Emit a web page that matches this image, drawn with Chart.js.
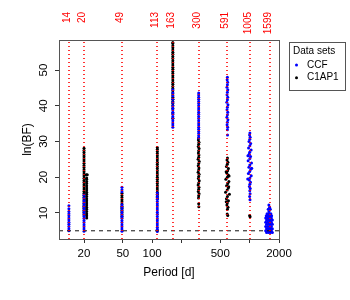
<!DOCTYPE html>
<html><head><meta charset="utf-8">
<script src="https://cdn.jsdelivr.net/npm/chart.js@4/dist/chart.umd.min.js"></script>
<style>html,body{margin:0;padding:0;background:#fff}canvas{display:block}</style>
</head><body>
<canvas id="c" width="350" height="300"></canvas>
<script>
// ---- marker periods (red dotted lines) and labels ----
const markerPeriods = [14, 20, 49, 113, 163, 300, 591, 1005, 1599];
const markerLabels = ['14', '20', '49', '113', '163', '300', '591', '1005', '1599'];
// ---- axis ticks ----
const xTickValues = [20, 50, 100, 200, 500, 1000, 2000];
const xTickLabels = ['20', '50', '100', '', '500', '', '2000'];
const yTickValues = [10, 20, 30, 40, 50];
const thresholdLnBF = 5;
const seriesNames = ['CCF', 'C1AP1'];

// ---- CCF (blue): narrow streaks, ln(BF) values at one period ----
const ccfP14 = [5.0, 5.6, 6.2, 6.8, 7.4, 8.0, 8.6, 9.2, 9.8, 10.4, 11.2, 12.0];
const ccfP20 = [4.9, 5.5, 6.1, 6.7, 7.3, 7.9, 8.5, 9.1, 9.7, 10.3, 10.9, 11.5, 12.1, 12.7, 13.4, 14.2, 15.0];
const ccfP49 = [4.9, 5.5, 6.1, 6.7, 7.3, 7.9, 8.5, 9.1, 9.7, 10.3, 10.9, 11.6, 12.3, 15.9, 16.5, 17.2];
const ccfP113 = [4.8, 5.4, 6.0, 6.6, 7.2, 7.8, 8.4, 9.0, 9.6, 10.2, 10.8, 11.4, 12.0, 12.6, 13.2, 13.8, 14.4, 15.0, 15.6];
const ccfP163 = [34.0, 34.6, 35.2, 35.8, 36.4, 37.0, 37.6, 38.2, 38.8, 39.4, 40.0, 40.9, 41.8, 42.7, 43.6, 44.5];
const ccfP300 = [31.0, 31.6, 32.2, 32.8, 33.4, 34.0, 34.6, 35.2, 35.8, 36.4, 37.0, 37.6, 38.2, 38.8, 39.4, 40.0, 40.6, 41.2, 41.8, 42.4, 43.0, 43.6];
// ---- CCF (blue): wider clusters, [period, ln(BF)] ----
const ccfP591 = [[591,48.0],[588,47.3],[594,46.6],[591,45.9],[585,45.2],[597,44.5],[591,43.8],[586,43.1],[596,42.4],[591,41.7],[583,41.0],[599,40.3],[591,39.6],[586,38.9],[596,38.2],[591,37.5],[584,36.8],[598,36.1],[591,35.4],[587,34.7],[595,34.0],[591,33.3],[593,31.8]];
const ccfP1005 = [[1005,32.4],[998,31.8],[1012,31.2],[1003,30.6],[985,30.0],[1025,29.4],[1005,28.8],[975,28.2],[1035,27.6],[1000,27.0],[988,26.4],[1022,25.8],[1006,25.2],[965,24.6],[1045,24.0],[1004,23.4],[982,22.8],[1028,22.2],[1002,21.6],[970,21.0],[1038,20.4],[1005,19.8],[990,19.2],[1020,18.6],[1004,18.0],[994,17.4],[1014,16.8],[1003,16.2],[1010,15.4],[1000,14.6],[1008,13.7],[960,26.0],[1050,22.5],[955,19.5]];
const ccfP1599 = [[1575,12.2],[1600,11.6],[1550,11.0],[1630,11.0],[1580,10.4],[1510,9.8],[1575,9.8],[1650,9.8],[1480,9.2],[1545,9.2],[1610,9.2],[1680,9.2],
  [1460,8.6],[1530,8.6],[1600,8.6],[1670,8.6],[1490,8.0],[1560,8.0],[1630,8.0],[1710,8.0],
  [1460,7.4],[1530,7.4],[1600,7.4],[1670,7.4],[1490,6.8],[1560,6.8],[1630,6.8],[1710,6.8],
  [1460,6.2],[1530,6.2],[1600,6.2],[1670,6.2],[1490,5.6],[1560,5.6],[1630,5.6],[1710,5.6],
  [1460,5.0],[1530,5.0],[1600,5.0],[1670,5.0],[1490,4.5],[1560,4.5],[1630,4.5],[1710,4.5]];

// ---- C1AP1 (black): narrow streaks ----
const c1P20 = [9.5, 10.1, 10.7, 11.3, 11.9, 12.5, 13.1, 13.7, 14.3, 14.9, 15.5, 16.1, 16.7, 17.3, 17.9, 18.5, 19.1, 19.7, 20.3, 20.9, 21.5, 22.1, 22.7, 23.3, 23.9, 24.5, 25.1, 25.7, 26.3, 26.9, 27.5, 28.1];
const c1P21 = [8.6, 9.2, 9.8, 10.4, 11.0, 11.6, 12.2, 12.8, 13.4, 14.0, 14.6, 15.2, 15.8, 16.4, 17.0, 17.6, 18.2, 18.8, 19.4, 19.8];
const c1P49 = [8.9, 9.5, 10.1, 10.7, 11.3, 11.9, 12.5, 13.1, 13.7, 14.3, 14.9, 15.5];
const c1P113 = [14.0, 14.6, 15.2, 15.8, 16.4, 17.0, 17.6, 18.2, 18.8, 19.4, 20.0, 20.6, 21.2, 21.8, 22.4, 23.0, 23.6, 24.2, 24.8, 25.4, 26.0, 26.6, 27.2, 27.8, 28.3];
const c1P163 = [36.5, 38.0, 39.2, 40.0, 40.6, 41.2, 41.8, 42.4, 43.0, 43.6, 44.2, 44.8, 45.4, 46.0, 46.6, 47.2, 47.8, 48.4, 49.0, 49.6, 50.2, 50.8, 51.4, 52.0, 52.6, 53.2, 53.8, 54.4, 55.0, 55.6, 56.2, 56.8, 57.4, 57.7];
// ---- C1AP1 (black): wider clusters, [period, ln(BF)] ----
const c1Extra21 = [[21.1,20.7],[21.6,20.7]];
const c1P300 = [[300,31.0],[298,30.4],[302,29.8],[300,29.2],[297,28.6],[303,28.0],[300,27.4],[298,26.8],[302,26.2],[300,25.6],[296,25.0],[304,24.4],[300,23.8],[297,23.2],[302,22.6],[300,22.0],[296,21.4],[303,20.8],[300,20.2],[298,19.6],[304,19.0],[300,18.4],[296,17.8],[302,17.2],[300,16.6],[297,16.0],[303,15.4],[300,14.8],[299,14.2],[300,12.6],[301,11.7]];
const c1P591 = [[592,25.4],[586,24.8],[598,24.2],[590,23.6],[578,23.0],[606,22.4],[594,21.8],[582,21.2],[602,20.6],[590,20.0],[570,19.4],[612,18.8],[596,18.2],[580,17.6],[604,17.0],[588,16.4],[566,15.8],[620,15.2],[592,14.6],[578,14.0],[606,13.4],[590,12.8],[584,12.2],[600,11.6],[592,11.0],[588,9.7],[596,9.3],[574,21.5],[610,17.3],[575,13.1],[615,20.3]];
const c1P1005 = [[1000,9.3],[1010,8.9]];

// ---- build library data ----
const streak = (p, vals) => vals.map(v => ({x: p, y: v}));
const pairs = arr => arr.map(([p, v]) => ({x: p, y: v}));
const ccfData = [].concat(streak(14, ccfP14), streak(20, ccfP20), streak(49, ccfP49), streak(113, ccfP113),
  streak(163, ccfP163), streak(300, ccfP300), pairs(ccfP591), pairs(ccfP1005), pairs(ccfP1599));
const c1Data = [].concat(streak(20, c1P20), streak(21.3, c1P21), pairs(c1Extra21), streak(49, c1P49), streak(113, c1P113),
  streak(163, c1P163), pairs(c1P300), pairs(c1P591), pairs(c1P1005));

const X_MIN = 11.08, X_MAX = 2000, Y_MIN = 2.7, Y_MAX = 58.4;
const FONT = "'Liberation Sans', Arial, Helvetica, sans-serif";
const PT_R = 1.5;

const thresholdSet = {
  label: 'threshold', showLine: true, data: [{x: X_MIN, y: thresholdLnBF}, {x: X_MAX, y: thresholdLnBF}],
  borderColor: '#111', borderWidth: 1, borderDash: [4, 4], pointRadius: 0, order: 0
};

const decor = {
  id: 'decor',
  afterDatasetsDraw(chart) {
    const ctx = chart.ctx, a = chart.chartArea, xs = chart.scales.x;
    ctx.save();
    // red dotted marker lines at the marker periods (positions from the x scale)
    ctx.strokeStyle = 'rgba(255,0,0,0.8)'; ctx.lineWidth = 2; ctx.setLineDash([1, 3]);
    markerPeriods.forEach(p => {
      const x = Math.round(xs.getPixelForValue(p));
      ctx.beginPath(); ctx.moveTo(x, a.top + 2); ctx.lineTo(x, a.bottom); ctx.stroke();
    });
    ctx.restore();
  },
  afterDraw(chart) {
    const ctx = chart.ctx, a = chart.chartArea, xs = chart.scales.x;
    ctx.save();
    // plot box
    ctx.strokeStyle = '#555'; ctx.lineWidth = 1; ctx.setLineDash([]);
    ctx.strokeRect(a.left + 0.5, a.top + 0.5, a.right - a.left, a.bottom - a.top);
    // red marker labels
    ctx.fillStyle = '#ff0000';
    ctx.font = '10px ' + FONT;
    ctx.textAlign = 'right'; ctx.textBaseline = 'alphabetic';
    markerPeriods.forEach((p, i) => {
      const x = Math.round(xs.getPixelForValue(p)) + 1;
      ctx.save(); ctx.translate(x, 12); ctx.rotate(-Math.PI / 2);
      ctx.fillText(markerLabels[i], 0, 0); ctx.restore();
    });
    // legend
    ctx.strokeStyle = '#555';
    ctx.strokeRect(289.5, 42.5, 56, 48);
    ctx.fillStyle = '#000'; ctx.font = '10px ' + FONT;
    ctx.textAlign = 'left'; ctx.textBaseline = 'middle';
    ctx.fillText('Data sets', 293, 51);
    const pts = chart.data.datasets.filter(d => seriesNames.includes(d.label));
    pts.forEach((d, i) => {
      const y = 65 + i * 12.7;
      ctx.fillStyle = d.backgroundColor;
      ctx.beginPath(); ctx.arc(296.5, y, 1.5, 0, Math.PI * 2); ctx.fill();
      ctx.fillStyle = '#000';
      ctx.fillText(d.label, 307, y);
    });
    ctx.restore();
  }
};

new Chart(document.getElementById('c'), {
  type: 'scatter',
  data: {
    datasets: [
      thresholdSet,
      {label: seriesNames[0], data: ccfData, backgroundColor: '#0000ff', pointRadius: PT_R, pointBorderWidth: 0, order: 1},
      {label: seriesNames[1], data: c1Data, backgroundColor: '#000000', pointRadius: PT_R, pointBorderWidth: 0, order: 2}
    ]
  },
  options: {
    responsive: false, animation: false, devicePixelRatio: 1,
    layout: {padding: {top: 40, right: 71, bottom: 0, left: 0}},
    plugins: {legend: {display: false}, tooltip: {enabled: false}},
    elements: {point: {hoverRadius: PT_R}},
    scales: {
      x: {
        type: 'logarithmic', min: X_MIN, max: X_MAX,
        afterBuildTicks: s => { s.ticks = xTickValues.map(v => ({value: v})); },
        afterFit: s => { s.height = 61; },
        ticks: {autoSkip: false, minRotation: 0, maxRotation: 0, padding: 4, color: '#000',
          font: {family: FONT, size: 11.5}, callback: (v, i) => xTickLabels[i]},
        grid: {drawOnChartArea: false, drawTicks: true, tickLength: 4, color: '#333'},
        border: {display: false},
        title: {display: true, text: 'Period [d]', color: '#000', font: {family: FONT, size: 12}, padding: {top: 0, bottom: 20}}
      },
      y: {
        type: 'linear', min: Y_MIN, max: Y_MAX,
        afterBuildTicks: s => { s.ticks = yTickValues.map(v => ({value: v})); },
        afterFit: s => { s.width = 59; },
        ticks: {minRotation: 90, maxRotation: 90, crossAlign: 'center', padding: 5, color: '#000',
          font: {family: FONT, size: 11.5}, callback: v => String(v)},
        grid: {drawOnChartArea: false, drawTicks: true, tickLength: 4, color: '#333'},
        border: {display: false},
        title: {display: true, text: 'ln(BF)', color: '#000', font: {family: FONT, size: 12}, padding: {top: 20, bottom: 0}}
      }
    }
  },
  plugins: [decor]
});
</script>
</body></html>
